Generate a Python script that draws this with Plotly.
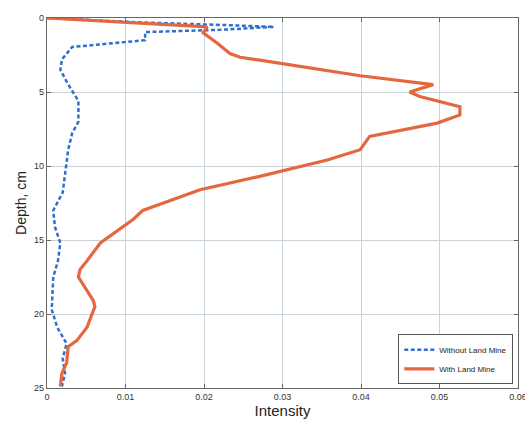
import plotly.graph_objects as go

# Without Land Mine (blue dashed)
depth_without = [0, 0.3, 0.5, 0.6, 0.8, 0.95, 1.5, 1.96, 2.8, 3.5, 4.4, 5.6, 7.0, 7.8, 8.9, 10.7, 11.8,
                 12.8, 13.0, 14.1, 15.2, 16.4, 17.5, 19.7, 20.9, 22.0, 23.0, 24.0, 24.9]
intensity_without = [0, 0.012, 0.024, 0.0289, 0.022, 0.0125, 0.0125, 0.0032, 0.0019, 0.0017, 0.0026,
                     0.0040, 0.0040, 0.0032, 0.0027, 0.0023, 0.0020, 0.0010, 0.0008, 0.0010, 0.0017,
                     0.0014, 0.0008, 0.0006, 0.0013, 0.0025, 0.0020, 0.0023, 0.0019]

# With Land Mine (orange solid)
depth_with = [0, 0.6, 1.0, 1.7, 2.4, 2.65, 2.85, 3.2, 3.9, 4.5, 5.0, 5.3, 6.0, 6.55, 7.1, 8.0, 8.9,
              9.6, 10.7, 11.6, 13.0, 13.6, 15.2, 16.4, 17.0, 17.5, 19.1, 19.5, 20.9, 21.8, 22.2,
              23.3, 24.0, 24.9]
intensity_with = [0, 0.0204, 0.0199, 0.0217, 0.0233, 0.0246, 0.0271, 0.0313, 0.0399, 0.0492, 0.0462,
                  0.0475, 0.0526, 0.0526, 0.0497, 0.0411, 0.0399, 0.0357, 0.0271, 0.0195, 0.0122,
                  0.0110, 0.0068, 0.0051, 0.0042, 0.0040, 0.0059, 0.0061, 0.0051, 0.0038, 0.0027,
                  0.0025, 0.0019, 0.0017]

x_ticks = [0, 0.01, 0.02, 0.03, 0.04, 0.05, 0.06]
x_tick_labels = ["0", "0.01", "0.02", "0.03", "0.04", "0.05", "0.06"]
y_ticks = [0, 5, 10, 15, 20, 25]

fig = go.Figure()
fig.add_trace(go.Scatter(x=intensity_without, y=depth_without, mode="lines",
                         name="Without Land Mine",
                         line=dict(color="#2f6fd0", width=2.5, dash="4px,2.5px")))
fig.add_trace(go.Scatter(x=intensity_with, y=depth_with, mode="lines",
                         name="With Land Mine",
                         line=dict(color="#e4673f", width=3.2)))

axis_common = dict(showline=True, linecolor="#666", linewidth=1.2, mirror="ticks",
                   ticks="inside", ticklen=4, tickcolor="#666", automargin=False,
                   showgrid=True, gridcolor="#c9d2da", gridwidth=1, zeroline=False,
                   tickfont=dict(family="Arial, Liberation Sans", size=9, color="#333"))

fig.update_layout(
    width=525, height=425,
    margin=dict(l=47, r=7, t=18, b=37),
    paper_bgcolor="white", plot_bgcolor="white",
    xaxis=dict(range=[0, 0.06], tickvals=x_ticks, ticktext=x_tick_labels,
               ticklabeloverflow="allow",
               title=dict(text="Intensity", standoff=2,
                          font=dict(family="Arial, Liberation Sans", size=15, color="#222")),
               **axis_common),
    yaxis=dict(range=[25, 0], tickvals=y_ticks,
               title=dict(text="Depth, cm", standoff=4,
                          font=dict(family="Arial, Liberation Sans", size=14, color="#222")),
               **axis_common),
    legend=dict(x=0.99, y=0.01, xanchor="right", yanchor="bottom",
                bgcolor="white", bordercolor="#555", borderwidth=1,
                font=dict(family="Arial, Liberation Sans", size=8, color="#222"),
                itemwidth=30, tracegroupgap=0),
    showlegend=True,
)

fig.write_html("out.html")
